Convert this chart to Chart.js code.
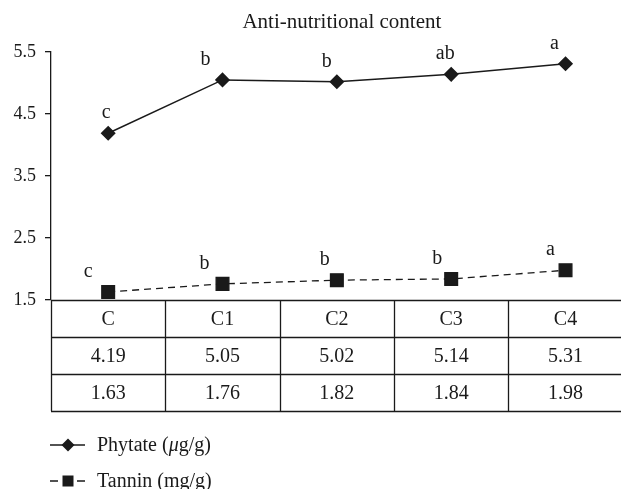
<!DOCTYPE html>
<html>
<head>
<meta charset="utf-8">
<script src="https://cdn.jsdelivr.net/npm/chart.js@4/dist/chart.umd.min.js"></script>
<style>
  html, body { margin: 0; padding: 0; background: #fff; overflow: hidden; }
  #wrap { width: 621px; height: 489px; overflow: hidden; }
  #c { display: block; }
</style>
</head>
<body>
<div id="wrap"><canvas id="c" width="633" height="489"></canvas></div>
<script>
// ---- data ----
const categories = ['C', 'C1', 'C2', 'C3', 'C4'];
const phytate = [4.19, 5.05, 5.02, 5.14, 5.31];
const tannin = [1.63, 1.76, 1.82, 1.84, 1.98];
const phytateLetters = ['c', 'b', 'b', 'ab', 'a'];
const tanninLetters = ['c', 'b', 'b', 'b', 'a'];
const yTicks = [1.5, 2.5, 3.5, 4.5, 5.5];
const titleText = 'Anti-nutritional content';
const phytateLabel = 'Phytate (\u03BCg/g)';
const tanninLabel = 'Tannin (mg/g)';

// ---- layout / style (not data) ----
const FONT = '"Liberation Serif", "DejaVu Serif", serif';
const INK = '#1a1a1a';
const phytateLetterDx = [-2, -17, -10, -6, -11];
const tanninLetterDx = [-20, -18, -12, -14, -15];

// draw text, rendering the Greek mu in italic as in the reference
function fillMixed(ctx, text, x, y, size) {
  const parts = text.split(/(\u03BC)/);
  let cx = x;
  parts.forEach(p => {
    if (!p) return;
    ctx.font = (p === '\u03BC' ? 'italic ' : '') + size + 'px ' + FONT;
    ctx.fillText(p, cx, y);
    cx += ctx.measureText(p).width;
  });
}

const extrasPlugin = {
  id: 'extras',
  afterDatasetsDraw(chart) {
    const ctx = chart.ctx;
    const xs = chart.scales.x;
    const ca = chart.chartArea;
    const n = categories.length;
    const colW = (ca.right - ca.left) / n;
    const rowH = 37;
    const top = ca.bottom;

    ctx.save();
    // title
    ctx.fillStyle = INK;
    ctx.font = '21px ' + FONT;
    ctx.textAlign = 'center';
    ctx.textBaseline = 'alphabetic';
    ctx.fillText(titleText, (ca.left + ca.right) / 2 + 5, 28);

    // letters above points
    ctx.font = '20px ' + FONT;
    const drawLetters = (meta, letters, dxs) => {
      meta.data.forEach((pt, i) => {
        ctx.fillText(letters[i], pt.x + dxs[i], pt.y - 15);
      });
    };
    drawLetters(chart.getDatasetMeta(0), phytateLetters, phytateLetterDx);
    drawLetters(chart.getDatasetMeta(1), tanninLetters, tanninLetterDx);

    // data table
    ctx.strokeStyle = INK;
    ctx.lineWidth = 1.3;
    ctx.beginPath();
    for (let r = 0; r <= 3; r++) {
      const y = Math.round(top + r * rowH) + 0.5;
      ctx.moveTo(ca.left, y);
      ctx.lineTo(ca.right, y);
    }
    for (let i = 0; i <= n; i++) {
      const x = Math.round(ca.left + i * colW) + 0.5;
      ctx.moveTo(x, top);
      ctx.lineTo(x, top + 3 * rowH);
    }
    ctx.stroke();

    ctx.textAlign = 'center';
    ctx.textBaseline = 'middle';
    ctx.font = '20px ' + FONT;
    categories.forEach((cat, i) => {
      const x = xs.getPixelForValue(i);
      ctx.fillText(cat, x, top + rowH * 0.5 + 1);
      ctx.fillText(phytate[i].toFixed(2), x, top + rowH * 1.5 + 1);
      ctx.fillText(tannin[i].toFixed(2), x, top + rowH * 2.5 + 1);
    });

    // legend
    const lx0 = 50, lx1 = 85, mx = 68, tx = 97;
    const ly1 = 445, ly2 = 481;
    ctx.lineWidth = 1.5;
    ctx.beginPath();
    ctx.moveTo(lx0, ly1); ctx.lineTo(lx1, ly1);
    ctx.stroke();
    ctx.beginPath();
    ctx.moveTo(mx, ly1 - 6.5); ctx.lineTo(mx + 6.5, ly1); ctx.lineTo(mx, ly1 + 6.5); ctx.lineTo(mx - 6.5, ly1);
    ctx.closePath();
    ctx.fill();
    ctx.beginPath();
    ctx.moveTo(lx0, ly2); ctx.lineTo(58, ly2);
    ctx.moveTo(77, ly2); ctx.lineTo(lx1, ly2);
    ctx.stroke();
    ctx.fillRect(mx - 5.5, ly2 - 5.5, 11, 11);

    ctx.textAlign = 'left';
    ctx.textBaseline = 'middle';
    fillMixed(ctx, phytateLabel, tx, ly1 + 1, 20);
    fillMixed(ctx, tanninLabel, tx, ly2 + 1, 20);
    ctx.restore();
  }
};

new Chart(document.getElementById('c'), {
  type: 'line',
  data: {
    labels: categories,
    datasets: [
      {
        label: phytateLabel,
        data: phytate,
        borderColor: INK,
        backgroundColor: INK,
        borderWidth: 1.5,
        pointStyle: 'rectRot',
        pointRadius: 6.5,
        pointHoverRadius: 6.5,
        tension: 0,
        clip: false
      },
      {
        label: tanninLabel,
        data: tannin,
        borderColor: INK,
        backgroundColor: INK,
        borderWidth: 1.3,
        borderDash: [7, 5],
        pointStyle: 'rect',
        pointRadius: 9,
        pointHoverRadius: 9,
        tension: 0,
        clip: false
      }
    ]
  },
  options: {
    responsive: false,
    devicePixelRatio: 1,
    animation: false,
    events: [],
    layout: { padding: { left: 0, right: 0, top: 52, bottom: 189 } },
    plugins: {
      legend: { display: false },
      title: { display: false },
      tooltip: { enabled: false }
    },
    scales: {
      x: {
        type: 'category',
        offset: true,
        display: false
      },
      y: {
        type: 'linear',
        min: yTicks[0],
        max: yTicks[yTicks.length - 1],
        afterFit(scale) { scale.width = 51; },
        afterBuildTicks(scale) { scale.ticks = yTicks.map(v => ({ value: v })); },
        ticks: {
          color: INK,
          font: { family: FONT, size: 18 },
          padding: 9,
          callback: v => Number(v).toFixed(1)
        },
        grid: {
          display: true,
          drawOnChartArea: false,
          drawTicks: true,
          tickLength: 6,
          color: INK,
          lineWidth: 1.3
        },
        border: { display: true, color: INK, width: 1.3 }
      }
    }
  },
  plugins: [extrasPlugin]
});
</script>
</body>
</html>
